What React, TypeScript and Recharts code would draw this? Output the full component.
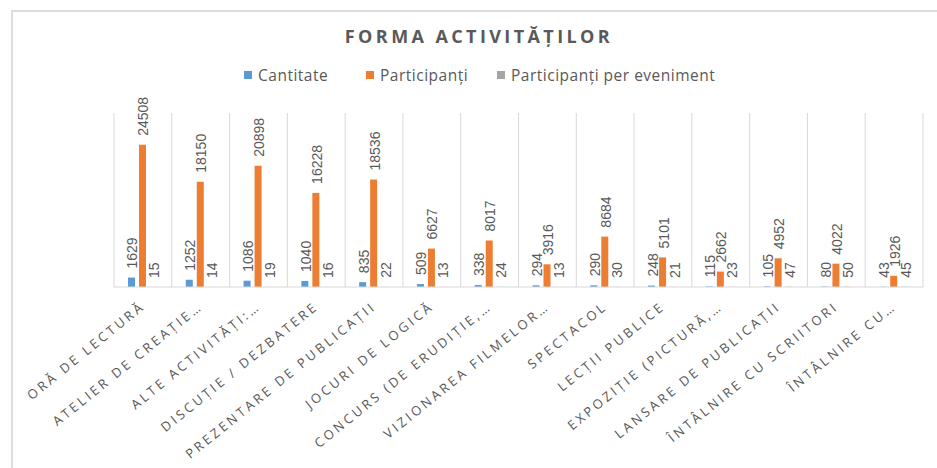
import { BarChart, Bar, XAxis, YAxis, ReferenceLine, LabelList } from 'recharts'

const categories = [
  'ORĂ DE LECTURĂ',
  'ATELIER DE CREAȚIE…',
  'ALTE ACTIVITĂȚI:…',
  'DISCUȚIE / DEZBATERE',
  'PREZENTARE DE PUBLICAȚII',
  'JOCURI DE LOGICĂ',
  'CONCURS (DE ERUDIȚIE,…',
  'VIZIONAREA FILMELOR…',
  'SPECTACOL',
  'LECȚII PUBLICE',
  'EXPOZIȚIE (PICTURĂ,…',
  'LANSARE DE PUBLICAȚII',
  'ÎNTÂLNIRE CU SCRIITORI',
  'ÎNTÂLNIRE CU…',
]
const cantitate = [1629, 1252, 1086, 1040, 835, 509, 338, 294, 290, 248, 115, 105, 80, 43]
const participanti = [24508, 18150, 20898, 16228, 18536, 6627, 8017, 3916, 8684, 5101, 2662, 4952, 4022, 1926]
const perEveniment = [15, 14, 19, 16, 22, 13, 24, 13, 30, 21, 23, 47, 50, 45]

const series = [
  { key: 'cantitate', name: 'Cantitate', color: '#5B9BD5' },
  { key: 'participanti', name: 'Participanți', color: '#ED7D31' },
  { key: 'perEveniment', name: 'Participanți per eveniment', color: '#A5A5A5' },
]

const data = categories.map((name, i) => ({
  name,
  cantitate: cantitate[i],
  participanti: participanti[i],
  perEveniment: perEveniment[i],
}))

const textColor = '#595959'
const gridColor = '#D9D9D9'

function ValueLabel(props: any) {
  const { x, y, width, value } = props
  const cx = x + width / 2 + 1
  const ty = y - 9
  return (
    <text
      x={cx}
      y={ty}
      transform={`rotate(-90 ${cx} ${ty})`}
      textAnchor="start"
      dominantBaseline="central"
      fill={textColor}
      fontSize={14}
      fontFamily="Liberation Sans, Arial, sans-serif"
    >
      {value}
    </text>
  )
}

function CategoryTick(props: any) {
  const { x, y, payload } = props
  return (
    <g transform={`translate(${x + 3},${y + 13})`}>
      <text
        textAnchor="end"
        transform="rotate(-39)"
        fill={textColor}
        fontSize={13}
        letterSpacing={3}
        fontFamily="Open Sans, sans-serif"
      >
        {payload.value}
      </text>
    </g>
  )
}

export default function App() {
  const legendX = [244, 366, 497]
  return (
    <div style={{ position: 'absolute', left: 0, top: 0, width: 937, height: 468, background: '#fff', overflow: 'hidden' }}>
      <div
        style={{
          position: 'absolute',
          left: 11,
          top: 10,
          width: 940,
          height: 470,
          borderLeft: '2px solid #DCDCDC',
          borderTop: '2px solid #DCDCDC',
        }}
      />
      <div
        style={{
          position: 'absolute',
          left: 0,
          width: 937,
          top: 24,
          textAlign: 'center',
          paddingLeft: 21,
          boxSizing: 'border-box',
          fontFamily: 'Open Sans, sans-serif',
          fontWeight: 700,
          fontSize: 18,
          letterSpacing: 3.4,
          color: textColor,
        }}
      >
        FORMA ACTIVITĂȚILOR
      </div>
      {series.map((s, i) => (
        <div
          key={s.key}
          style={{
            position: 'absolute',
            left: legendX[i],
            top: 64,
            display: 'flex',
            alignItems: 'center',
            fontFamily: 'Open Sans, sans-serif',
            fontSize: 15.5,
            letterSpacing: 0.5,
            color: textColor,
            whiteSpace: 'nowrap',
          }}
        >
          <span style={{ display: 'inline-block', width: 8, height: 8, background: s.color, marginRight: 6 }} />
          {s.name}
        </div>
      ))}
      <div style={{ position: 'absolute', left: 0, top: 0 }}>
        <BarChart
          width={937}
          height={468}
          data={data}
          margin={{ top: 113, right: 14, bottom: 151, left: 114 }}
          barGap={4}
        >
          <XAxis
            dataKey="name"
            interval={0}
            height={30}
            axisLine={{ stroke: gridColor }}
            tickLine={false}
            tick={<CategoryTick />}
          />
          <YAxis hide domain={[0, 30000]} />
          {categories.map((c) => (
            <ReferenceLine key={c} x={c} position="start" stroke={gridColor} />
          ))}
          <ReferenceLine x={categories[categories.length - 1]} position="end" stroke={gridColor} />
          {series.map((s) => (
            <Bar key={s.key} dataKey={s.key} name={s.name} fill={s.color} barSize={7} isAnimationActive={false}>
              <LabelList dataKey={s.key} content={<ValueLabel />} />
            </Bar>
          ))}
        </BarChart>
      </div>
    </div>
  )
}
